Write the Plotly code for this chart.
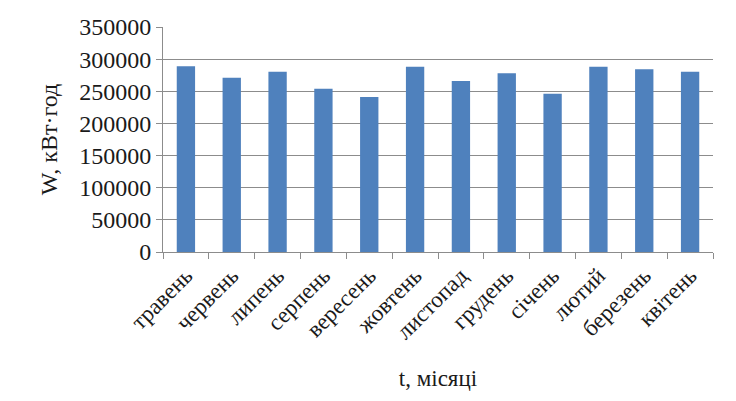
import plotly.graph_objects as go

months = ["травень", "червень", "липень", "серпень", "вересень", "жовтень",
          "листопад", "грудень", "січень", "лютий", "березень", "квітень"]
energy = [289000, 271000, 280500, 254000, 241000, 288300,
          266000, 278000, 246300, 288300, 284200, 280500]

y_title = "W, кВт·год"
x_title = "t, місяці"

font_family = "Liberation Serif"
grid_color = "#8c8c8c"

fig = go.Figure(go.Bar(
    x=months, y=energy,
    marker=dict(color="#4f81bd", line=dict(width=0)),
))

fig.update_layout(
    width=736, height=401,
    margin=dict(l=163, r=23, t=27, b=149),
    paper_bgcolor="white", plot_bgcolor="white",
    bargap=0.6,
    showlegend=False,
    font=dict(family=font_family, color="#1a1a1a", size=22),
)

fig.update_xaxes(
    type="category",
    tickangle=-45,
    tickfont=dict(size=23, family=font_family),
    ticks="outside", tickson="boundaries", ticklen=6, tickcolor=grid_color,
    showline=True, linecolor=grid_color, linewidth=1,
    showgrid=False,
    title=dict(text=x_title, font=dict(size=23, family=font_family), standoff=26),
)

fig.update_yaxes(
    range=[0, 350000], dtick=50000,
    tickformat="d",
    tickfont=dict(size=24, family=font_family),
    ticks="outside", ticklen=6, tickcolor=grid_color,
    showline=True, linecolor=grid_color, linewidth=1,
    showgrid=True, gridcolor=grid_color, gridwidth=1,
    zeroline=False,
    title=dict(text=y_title, font=dict(size=24, family=font_family), standoff=14),
)

fig.write_html("out.html")
